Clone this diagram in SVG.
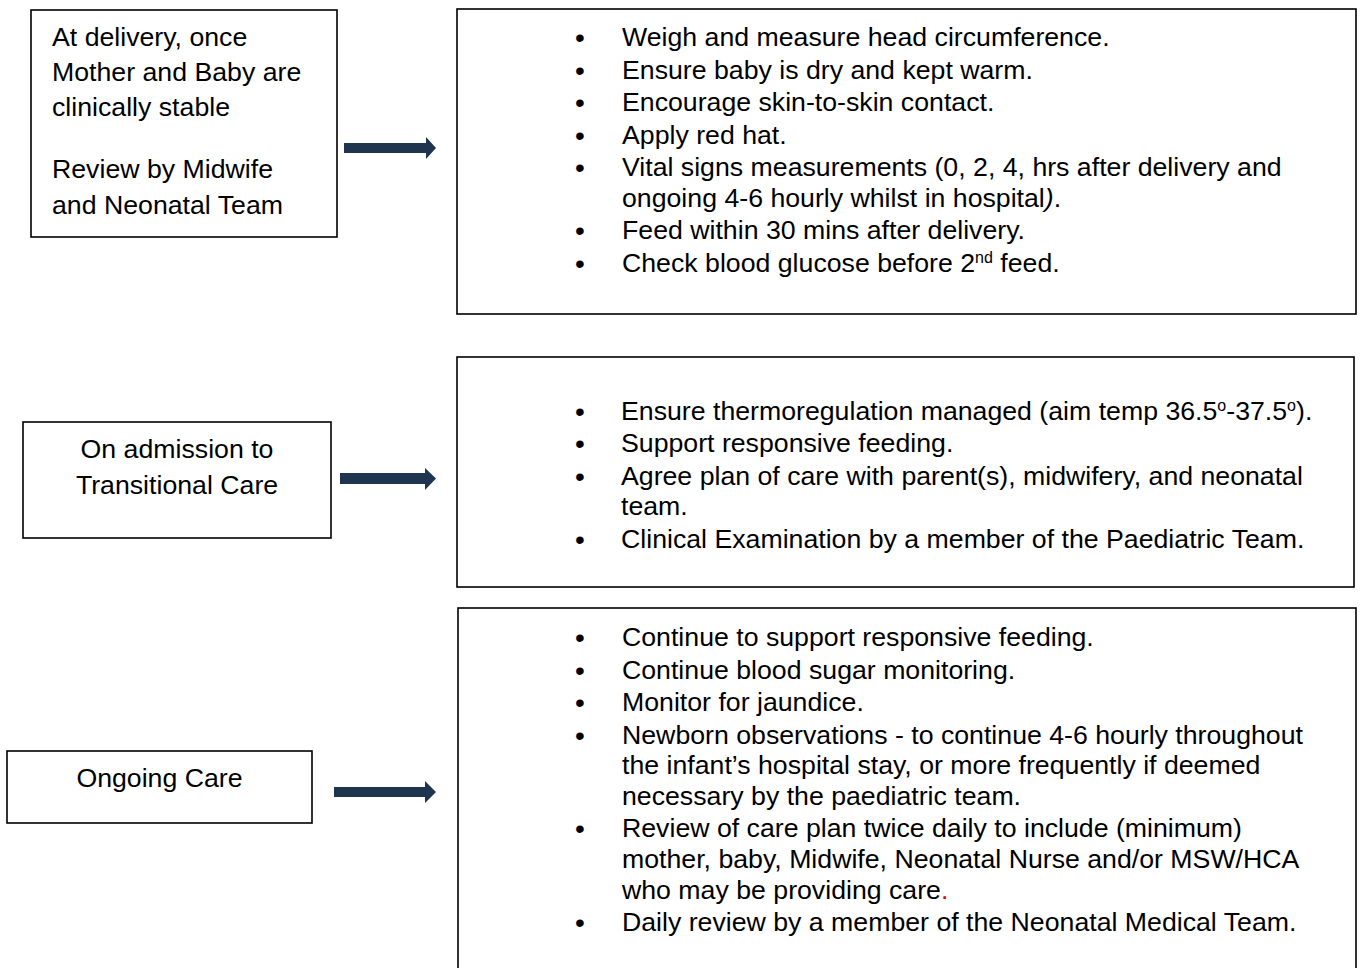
<svg xmlns="http://www.w3.org/2000/svg" width="1360" height="968" viewBox="0 0 1360 968">
<style>
.box{fill:#fff;stroke:#000;stroke-width:1.6}
text{font-family:"Liberation Sans",Arial,sans-serif;font-size:26.7px;fill:#000}
.c{text-anchor:middle}
.b{text-anchor:middle;font-size:28px}
.arr{fill:#1f344f}
</style>
<rect width="1360" height="968" fill="#fff"/>
<g id="node-delivery">
<rect class="box" x="31" y="10" width="306" height="227"/>
<text x="52" y="46">At delivery, once</text>
<text x="52" y="81">Mother and Baby are</text>
<text x="52" y="116">clinically stable</text>
<text x="52" y="178">Review by Midwife</text>
<text x="52" y="214">and Neonatal Team</text>
</g>
<g id="node-delivery-actions">
<rect class="box" x="457" y="9" width="899" height="305"/>
<text class="b" x="580" y="47">•</text><text x="622" y="46">Weigh and measure head circumference.</text>
<text class="b" x="580" y="80">•</text><text x="622" y="79">Ensure baby is dry and kept warm.</text>
<text class="b" x="580" y="112">•</text><text x="622" y="111">Encourage skin-to-skin contact.</text>
<text class="b" x="580" y="145">•</text><text x="622" y="144">Apply red hat.</text>
<text class="b" x="580" y="177">•</text><text x="622" y="176">Vital signs measurements (0, 2, 4, hrs after delivery and</text>
<text x="622" y="207">ongoing 4-6 hourly whilst in hospital<tspan font-style="italic">)</tspan>.</text>
<text class="b" x="580" y="240">•</text><text x="622" y="239">Feed within 30 mins after delivery.</text>
<text class="b" x="580" y="273">•</text><text x="622" y="272">Check blood glucose before 2<tspan font-size="16" dy="-9">nd</tspan><tspan dy="9"> feed.</tspan></text>
</g>
<g id="node-admission">
<rect class="box" x="23" y="422" width="308" height="116"/>
<text class="c" x="177" y="458">On admission to</text>
<text class="c" x="177" y="494">Transitional Care</text>
</g>
<g id="node-admission-actions">
<rect class="box" x="457" y="357" width="897" height="230"/>
<text class="b" x="580" y="421">•</text><text x="621" y="420">Ensure thermoregulation managed (aim temp 36.5<tspan font-size="16" dy="-9">o</tspan><tspan dy="9">-37.5</tspan><tspan font-size="16" dy="-9">o</tspan><tspan dy="9">).</tspan></text>
<text class="b" x="580" y="453">•</text><text x="621" y="452">Support responsive feeding.</text>
<text class="b" x="580" y="486">•</text><text x="621" y="485">Agree plan of care with parent(s), midwifery, and neonatal</text>
<text x="621" y="515">team.</text>
<text class="b" x="580" y="549">•</text><text x="621" y="548">Clinical Examination by a member of the Paediatric Team.</text>
</g>
<g id="node-ongoing">
<rect class="box" x="7" y="751" width="305" height="72"/>
<text class="c" x="159.5" y="787">Ongoing Care</text>
</g>
<g id="node-ongoing-actions">
<rect class="box" x="458" y="608" width="898" height="380"/>
<text class="b" x="580" y="647">•</text><text x="622" y="646">Continue to support responsive feeding.</text>
<text class="b" x="580" y="680">•</text><text x="622" y="679">Continue blood sugar monitoring.</text>
<text class="b" x="580" y="712">•</text><text x="622" y="711">Monitor for jaundice.</text>
<text class="b" x="580" y="745">•</text><text x="622" y="744">Newborn observations - to continue 4-6 hourly throughout</text>
<text x="622" y="774">the infant’s hospital stay, or more frequently if deemed</text>
<text x="622" y="805">necessary by the paediatric team.</text>
<text class="b" x="580" y="838">•</text><text x="622" y="837">Review of care plan twice daily to include (minimum)</text>
<text x="622" y="868">mother, baby, Midwife, Neonatal Nurse and/or MSW/HCA</text>
<text x="622" y="899">who may be providing care<tspan fill="#e00000">.</tspan></text>
<text class="b" x="580" y="932">•</text><text x="622" y="931">Daily review by a member of the Neonatal Medical Team.</text>
</g>
<g id="connectors">
<polygon class="arr" points="344,143 426,143 426,137 436,148 426,159 426,153 344,153"/>
<polygon class="arr" points="340,473 425,473 425,468 436,478.5 425,490 425,484 340,484"/>
<polygon class="arr" points="334,787 425,787 425,781 436,792 425,803 425,797 334,797"/>
</g>
</svg>
